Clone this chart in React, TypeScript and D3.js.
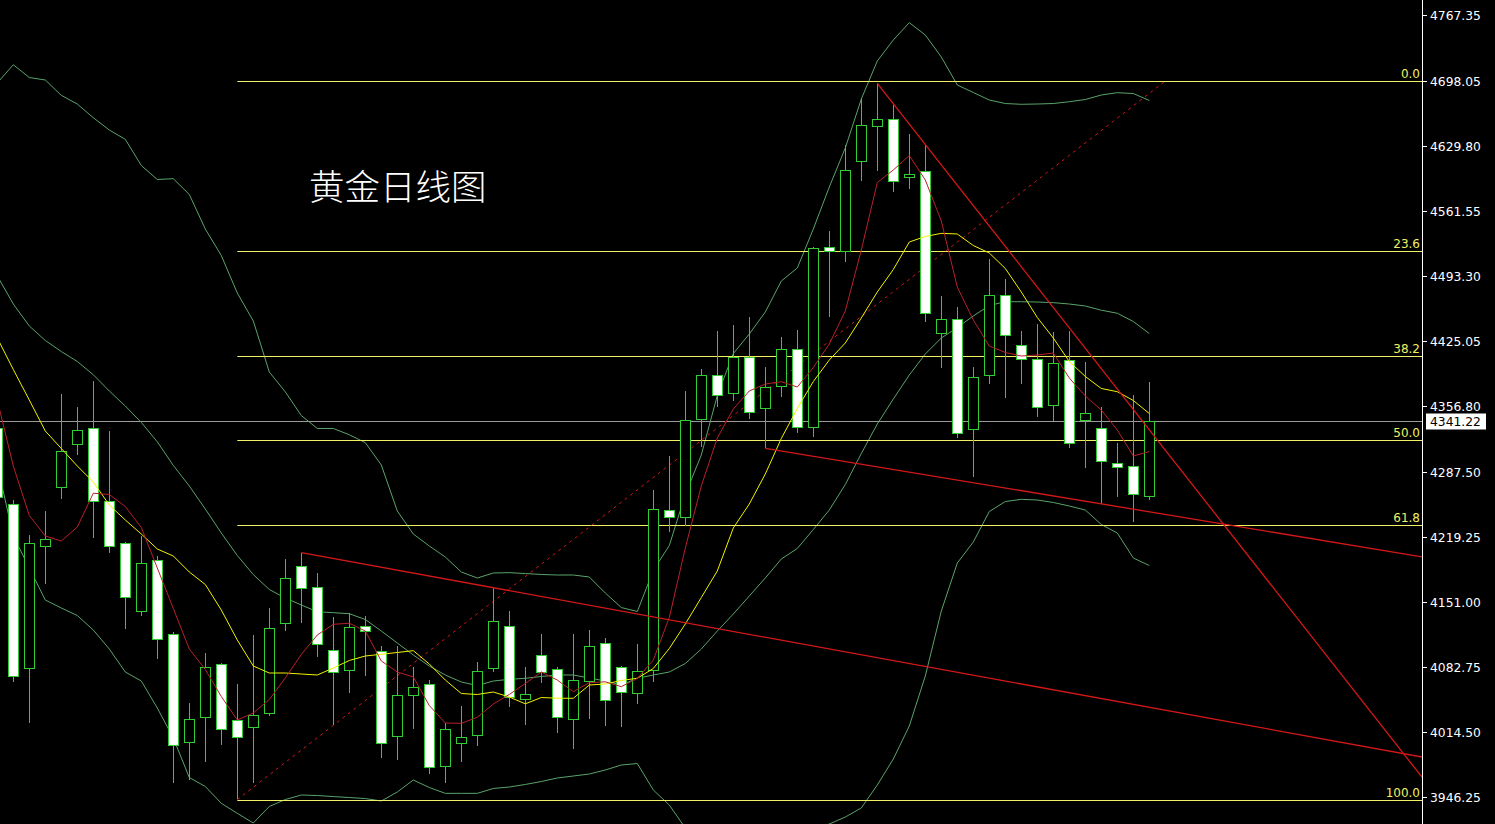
import React from "react";
import * as d3 from "d3";

const W = 1495;
const H = 824;
const PLOT_RIGHT = 1422;

const TITLE = "黄金日线图";
const FIRST_INDEX = -1;

// candle data, index -1 .. 71
const opens = [4333.4,4253.6,4081.4,4209.5,4271.4,4316.6,4333.4,4256.7,4212.9,4141.2,4194.8,4117.1,4003.7,4029.9,4085.6,4026.8,4020.1,4034.8,4129.3,4188.5,4166.4,4100.3,4079.3,4126.1,4099.2,4010.6,4053.7,4064.6,3979.1,4002.6,4011.0,4082.0,4125.5,4049.5,4095.0,4080.3,4028.5,4068.4,4107.6,4082.4,4055.1,4079.3,4247.3,4239.9,4342.8,4389.35,4370.8,4408.6,4354.4,4377.8,4416.3,4334.4,4523.4,4519.9,4613.7,4651.1,4657.8,4596.9,4603.2,4433.1,4447.8,4333.0,4389.7,4473.0,4420.5,4405.8,4357.5,4404.8,4341.8,4333.4,4296.95,4293.5,4262.6];
const highs = [4336.8,4258.1,4221.4,4246.5,4369.4,4355.7,4383.0,4330.5,4214.0,4220.6,4199.0,4119.8,4044.6,4097.1,4086.6,4064.9,4116.35,4144.4,4196.1,4202.8,4181.45,4134.9,4139.1,4136.3,4104.8,4104.8,4083.1,4069.1,4023.95,4041.8,4088.0,4165.4,4141.2,4082.75,4117.4,4083.1,4117.4,4121.6,4112.9,4083.8,4106.9,4268.3,4304.3,4372.55,4395.65,4435.55,4441.85,4450.6,4398.1,4429.25,4436.6,4524.1,4540.55,4630.85,4680.5,4695.6,4672.85,4642.4,4630.85,4472.3,4461.1,4397.75,4511.15,4489.8,4435.2,4442.6,4434.2,4435.55,4402.7,4355.4,4317.95,4368.35,4381.7];
const lows = [4258.1,4067.3,4024.3,4170.2,4259.5,4305.7,4218.5,4202.1,4122.3,4136.6,4091.5,3960.6,3964.1,3983.3,4001.2,3943.8,3961.3,4031.6,4120.9,4128.6,4092.9,4021.85,4055.1,4073.3,3986.9,3984.8,4018.0,3970.1,3960.6,3983.3,4000.1,4077.2,4041.1,4022.2,4066.3,4013.1,3997.0,4028.5,4021.1,4020.1,4043.6,4066.7,4224.2,4230.5,4313.4,4356.1,4362.4,4343.5,4312.4,4366.6,4328.8,4324.6,4450.6,4508.3,4593.4,4603.55,4581.8,4585.0,4445.3,4396.4,4322.9,4282.6,4380.2,4365.5,4380.2,4345.6,4341.4,4313.0,4292.0,4253.9,4261.6,4235.3,4257.8];
const closes = [4261.6,4073.3,4212.9,4216.8,4309.5,4331.3,4256.7,4209.5,4155.9,4191.9,4111.8,4000.9,4027.8,4082.75,4017.3,4008.9,4032.35,4123.4,4175.9,4165.4,4106.6,4077.2,4124.4,4120.55,4002.95,4053.0,4061.4,3977.4,4017.3,4009.25,4078.2,4130.7,4050.9,4054.1,4077.2,4029.9,4068.8,4104.8,4047.8,4056.2,4078.55,4248.65,4239.9,4341.8,4389.35,4368.7,4408.6,4350.2,4376.4,4416.3,4334.4,4522.4,4519.55,4604.6,4651.85,4657.8,4592.7,4600.1,4454.1,4447.8,4328.8,4386.9,4473.0,4431.0,4406.5,4355.75,4401.6,4317.95,4349.45,4299.05,4292.4,4264.1,4341.22];

// moving averages / bands
const maRed = [4363.1,4293.8,4241.8,4220.3,4215.05,4229.75,4265.2,4263.9,4251.3,4229.2,4186.7,4144.2,4101.65,4080.1,4051.8,4027.1,4034.45,4048.6,4071.2,4095.9,4116.35,4127.6,4128.7,4120.55,4089.05,4077.5,4072.25,4042.3,4023.95,4023.6,4030.0,4043.9,4053.9,4065.4,4077.5,4069.1,4056.8,4066.3,4067.2,4062.1,4070.7,4090.1,4134.7,4207.7,4272.8,4323.2,4353.65,4372.55,4379.9,4382.3,4376.75,4397.2,4421.9,4456.55,4520.6,4591.5,4604.6,4619.8,4594.1,4551.05,4481.75,4447.1,4419.8,4413.0,4409.3,4410.35,4412.45,4386.2,4367.3,4352.6,4331.6,4304.3,4309.0];
const maYellow = [4428.2,4395.1,4363.1,4330.55,4312.2,4293.8,4277.0,4252.85,4237.1,4222.4,4206.65,4199.3,4182.5,4169.4,4142.6,4111.1,4083.8,4076.45,4076.45,4075.4,4074.35,4081.7,4089.6,4094.3,4096.1,4098.0,4099.9,4085.9,4069.1,4054.9,4053.9,4056.5,4051.25,4044.1,4050.7,4050.0,4049.9,4063.85,4064.9,4068.6,4070.9,4081.2,4102.2,4127.9,4155.7,4183.55,4228.7,4253.9,4285.4,4322.7,4354.2,4382.5,4405.1,4422.95,4449.2,4476.5,4500.1,4529.0,4534.8,4538.1,4537.4,4525.3,4517.45,4501.2,4476.5,4449.7,4428.2,4403.5,4387.8,4375.2,4371.8,4362.6,4348.9];
const bbUpper = [4696.0,4715.1,4701.7,4699.1,4683.0,4673.9,4659.5,4646.6,4636.8,4609.3,4594.6,4595.5,4578.9,4542.65,4514.8,4475.45,4446.05,4392.5,4371.7,4346.8,4333.2,4333.2,4326.6,4318.3,4294.85,4246.55,4222.4,4209.8,4198.25,4182.5,4176.2,4181.45,4181.8,4180.9,4179.9,4179.35,4179.35,4177.25,4160.45,4145.2,4141.0,4184.1,4210.3,4263.9,4305.35,4367.8,4411.9,4432.4,4455.5,4488.05,4501.7,4542.65,4586.75,4627.7,4679.15,4719.05,4741.1,4759.3,4746.35,4723.25,4693.85,4686.0,4678.1,4674.4,4673.6,4673.9,4674.4,4676.3,4678.6,4683.35,4685.8,4684.9,4677.6];
const bbMiddle = [4493.3,4463.9,4440.8,4425.6,4414.0,4403.5,4389.6,4372.55,4356.8,4339.5,4319.2,4294.4,4272.8,4248.65,4223.45,4199.8,4179.8,4164.1,4155.2,4147.85,4140.8,4139.8,4138.7,4132.6,4120.55,4107.95,4095.35,4083.8,4074.35,4067.0,4063.3,4068.05,4069.8,4070.9,4072.8,4074.35,4074.35,4071.2,4068.05,4063.85,4070.9,4074.35,4077.5,4086.4,4101.65,4120.55,4138.4,4157.3,4176.2,4196.15,4207.2,4227.1,4247.6,4274.4,4306.9,4337.9,4364.1,4389.35,4411.4,4428.2,4439.2,4451.3,4462.3,4466.3,4466.3,4466.0,4465.3,4463.9,4461.8,4457.4,4454.2,4445.5,4432.9];
const bbLower = [4294.85,4220.3,4186.7,4153.1,4144.7,4136.8,4121.6,4101.65,4077.5,4068.05,4039.7,4008.2,3966.7,3957.3,3939.6,3929.1,3918.95,3936.3,3943.6,3948.35,3947.8,3946.7,3945.7,3944.6,3942.05,3951.5,3964.1,3956.2,3950.1,3950.1,3950.1,3955.2,3956.75,3959.4,3962.5,3966.2,3968.3,3970.4,3974.6,3979.85,3981.4,3953.6,3937.85,3913.7,3897.95,3873.8,3865.4,3882.2,3896.9,3904.25,3911.6,3913.7,3917.9,3925.25,3934.7,3958.85,3986.15,4020.8,4073.3,4141.55,4191.95,4214.0,4246.0,4256.5,4258.8,4258.1,4255.5,4251.8,4247.6,4232.4,4223.45,4197.2,4189.3];

// fibonacci retracement
const fibLevels = [0, 23.6, 38.2, 50, 61.8, 100];
const fibLabels = ["0.0", "23.6", "38.2", "50.0", "61.8", "100.0"];
const fibLowIndex = 14;
const fibLowPrice = 3943.5;
const fibHighIndex = 72;
const fibHighPrice = 4698.05;

// trend lines: [index, price] anchors, extended to the price axis
const trendLines: [number, number][][] = [
  [[18, 4202.8], [70, 4043.5]],
  [[47, 4312.4], [70, 4248.5]],
  [[54, 4695.6], [70, 4353.2]],
];

const axisTicks = [4767.35, 4698.05, 4629.8, 4561.55, 4493.3, 4425.05, 4356.8, 4287.5, 4219.25, 4151.0, 4082.75, 4014.5, 3946.25];
const lastPrice = 4341.22;

const GREEN = "#32cd32";
const BAND = "#5aa36a";
const YELLOW = "#f2f200";
const FIB = "#f0f060";
const MA_RED = "#b8202c";
const TREND_RED = "#d41818";

export default function App() {
  const x = d3.scaleLinear().domain([-1, 71]).range([-2.7, 1149.3]);
  const y = d3.scaleLinear().domain([3946.25, 4767.35]).range([797, 15]);

  const lineGen = (vals: number[]) =>
    d3
      .line<number>()
      .x((_, k) => x(k + FIRST_INDEX))
      .y((v) => y(v))(vals) || "";

  const endIdx = x.invert(PLOT_RIGHT);

  const candles = opens.map((o, k) => {
    const i = k + FIRST_INDEX;
    const cx = Math.round(x(i)) + 0.5;
    const c = closes[k];
    const top = y(Math.max(o, c));
    const bot = y(Math.min(o, c));
    const bear = c < o;
    const bh = Math.max(Math.round(bot) - Math.round(top), 2);
    return (
      <g key={k}>
        <line x1={cx} x2={cx} y1={Math.round(y(highs[k]))} y2={Math.round(y(lows[k]))} stroke={GREEN} strokeWidth={1} />
        <rect
          x={cx - 5}
          y={Math.round(top) + 0.5}
          width={10}
          height={bh}
          fill={bear ? "#ffffff" : "#000000"}
          stroke={GREEN}
          strokeWidth={1.2}
        />
      </g>
    );
  });

  const fibRange = fibHighPrice - fibLowPrice;

  return (
    <div style={{ position: "fixed", left: 0, top: 0, width: W, height: H, background: "#000" }}>
      <svg width={W} height={H} style={{ display: "block", background: "#000" }}>
        <defs>
          <clipPath id="plot">
            <rect x={0} y={0} width={PLOT_RIGHT} height={H} />
          </clipPath>
        </defs>
        <g clipPath="url(#plot)">
          <line x1={0} x2={PLOT_RIGHT} y1={Math.round(y(lastPrice)) + 0.5} y2={Math.round(y(lastPrice)) + 0.5} stroke="#9a9a9a" strokeWidth={1} />
          {[bbUpper, bbMiddle, bbLower].map((arr, k) => (
            <path key={k} d={lineGen(arr)} fill="none" stroke={BAND} strokeWidth={1} />
          ))}
          {fibLevels.map((lv, k) => {
            const yy = Math.round(y(fibHighPrice - (fibRange * lv) / 100)) + 0.5;
            return (
              <line key={k} x1={x(fibLowIndex)} x2={PLOT_RIGHT} y1={yy} y2={yy} stroke={FIB} strokeWidth={1} />
            );
          })}
          <line
            x1={x(fibLowIndex)}
            y1={y(fibLowPrice)}
            x2={x(fibHighIndex)}
            y2={y(fibHighPrice)}
            stroke={TREND_RED}
            strokeWidth={1}
            strokeDasharray="3,4"
          />
          <g shapeRendering="crispEdges">{candles}</g>
          <path d={lineGen(maYellow)} fill="none" stroke={YELLOW} strokeWidth={1} />
          <path d={lineGen(maRed)} fill="none" stroke={MA_RED} strokeWidth={1} />
          {trendLines.map(([[i1, p1], [i2, p2]], k) => {
            const pEnd = p1 + ((p2 - p1) * (endIdx - i1)) / (i2 - i1);
            return (
              <line key={k} x1={x(i1)} y1={y(p1)} x2={PLOT_RIGHT} y2={y(pEnd)} stroke={TREND_RED} strokeWidth={1.3} />
            );
          })}
        </g>
        {fibLevels.map((lv, k) => (
          <text
            key={k}
            x={PLOT_RIGHT - 2}
            y={y(fibHighPrice - (fibRange * lv) / 100) - 3}
            fill={FIB}
            fontSize={12}
            fontFamily="DejaVu Sans, Verdana, sans-serif"
            textAnchor="end"
          >
            {fibLabels[k]}
          </text>
        ))}
        <text x={309} y={200} fill="#ffffff" fontSize={35.5} fontFamily="Noto Sans CJK SC, sans-serif" fontWeight={300}>
          {TITLE}
        </text>
        <line x1={PLOT_RIGHT + 0.5} x2={PLOT_RIGHT + 0.5} y1={0} y2={H} stroke="#ffffff" strokeWidth={1} />
        {axisTicks.map((t, k) => {
          const yy = Math.round(y(t)) + 0.5;
          return (
            <g key={k}>
              <line x1={PLOT_RIGHT} x2={PLOT_RIGHT + 5} y1={yy} y2={yy} stroke="#ffffff" strokeWidth={1} />
              <text x={1430} y={yy + 1} fill="#ffffff" fontSize={12.3} fontFamily="DejaVu Sans, Verdana, sans-serif" dominantBaseline="middle">
                {d3.format(".2f")(t)}
              </text>
            </g>
          );
        })}
        <rect x={1426} y={Math.round(y(lastPrice)) - 7.5} width={60} height={16} fill="#ffffff" />
        <text x={1430} y={Math.round(y(lastPrice)) + 1} fill="#000000" fontSize={12.3} fontFamily="DejaVu Sans, Verdana, sans-serif" dominantBaseline="middle">
          {d3.format(".2f")(lastPrice)}
        </text>
      </svg>
    </div>
  );
}
